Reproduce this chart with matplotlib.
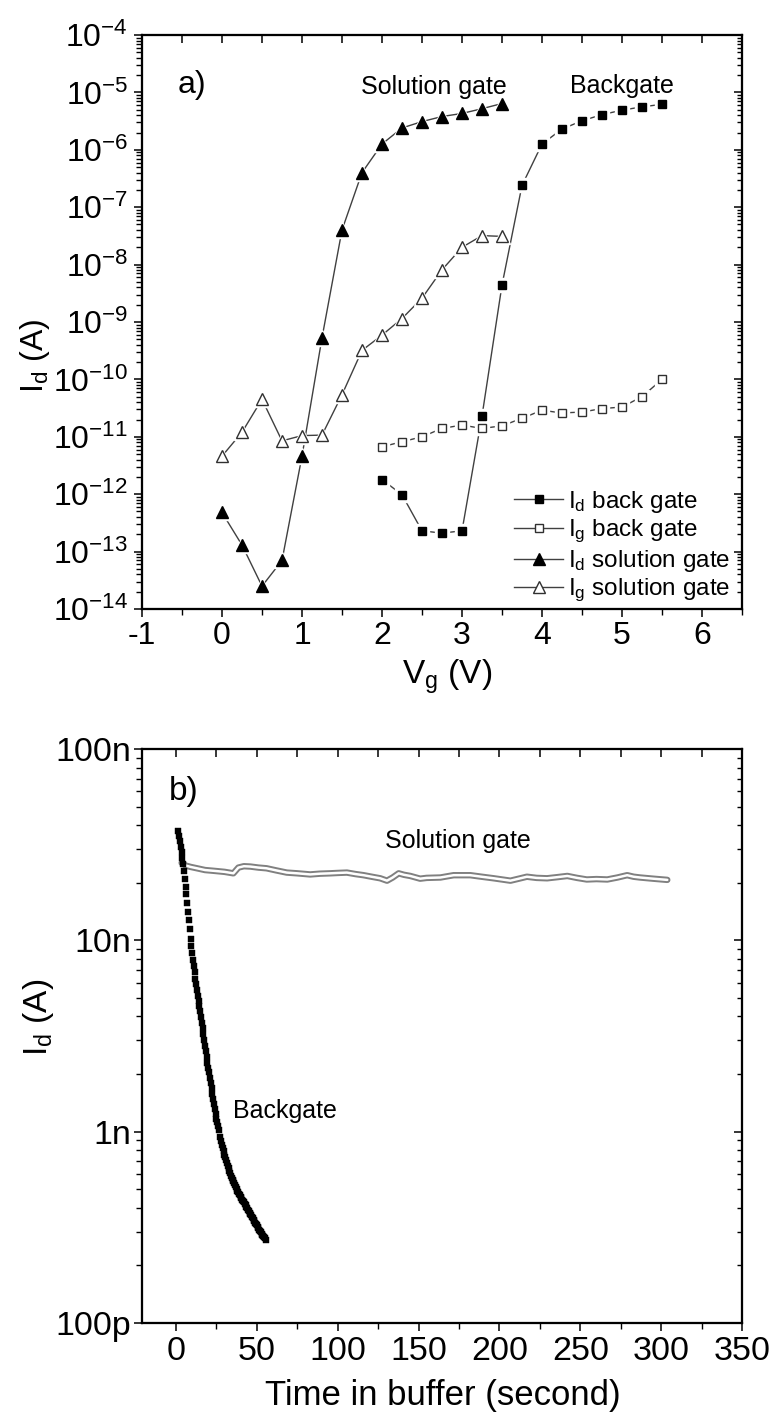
import numpy as np
import matplotlib.pyplot as plt
from matplotlib.lines import Line2D
from matplotlib.ticker import (LogLocator, MultipleLocator, FixedLocator,
                               FuncFormatter, NullFormatter)

plt.rcParams['font.family'] = 'Liberation Sans'
plt.rcParams['mathtext.fontset'] = 'custom'
plt.rcParams['mathtext.rm'] = 'Liberation Sans'
plt.rcParams['mathtext.it'] = 'Liberation Sans:italic'
plt.rcParams['mathtext.bf'] = 'Liberation Sans:bold'
plt.rcParams['axes.unicode_minus'] = False
plt.rcParams['axes.linewidth'] = 1.5

# --- a) transfer curves, Vg sweep ---
vg_solution = [0, 0.25, 0.5, 0.75, 1.0, 1.25, 1.5, 1.75, 2.0, 2.25, 2.5, 2.75, 3.0, 3.25, 3.5]
id_solution = [4.8e-13, 1.3e-13, 2.5e-14, 7e-14, 4.6e-12, 5.3e-10, 4.0e-8, 4.0e-7,
               1.26e-6, 2.4e-6, 3.1e-6, 3.8e-6, 4.3e-6, 5.2e-6, 6.4e-6]
ig_solution = [4.6e-12, 1.2e-11, 4.5e-11, 8.5e-12, 1.05e-11, 1.07e-11, 5.4e-11, 3.2e-10,
               5.9e-10, 1.15e-9, 2.6e-9, 8.1e-9, 2.0e-8, 3.2e-8, 3.1e-8]

vg_back = [2.0, 2.25, 2.5, 2.75, 3.0, 3.25, 3.5, 3.75, 4.0, 4.25, 4.5, 4.75, 5.0, 5.25, 5.5]
id_back = [1.8e-12, 9.8e-13, 2.3e-13, 2.1e-13, 2.3e-13, 2.3e-11, 4.4e-9, 2.4e-7,
           1.26e-6, 2.3e-6, 3.2e-6, 4.1e-6, 4.9e-6, 5.6e-6, 6.2e-6]
ig_back = [6.7e-12, 8.2e-12, 1.0e-11, 1.4e-11, 1.6e-11, 1.4e-11, 1.55e-11, 2.1e-11,
           2.9e-11, 2.6e-11, 2.7e-11, 3.1e-11, 3.3e-11, 5.0e-11, 1.0e-10]

# --- b) drain current vs time in buffer (nA) ---
# back gate logged every 0.5 s starting at 1.5 s (one missing sample at 27 s)
backgate_nA = [37.2, 35.1, 33.1, 30.9, 28.8, 26.9, 25.1, 22.9, 20.9, 19.1,
               17.4, 15.7, 14.1, 12.7, 11.5, 10.2, 9.3, 8.6, 7.9, 7.3,
               6.8, 6.3, 5.9, 5.5, 5.1, 4.84, 4.52, 4.27, 3.98, 3.72,
               3.47, 3.24, 3.02, 2.82, 2.63, 2.45, 2.29, 2.16, 2.04, 1.91,
               1.80, 1.70, 1.58, 1.48, 1.40, 1.32, 1.24, 1.17,
               1.12, 1.07, 1.02, np.nan, 0.933, 0.891, 0.851, 0.818, 0.789, 0.759,
               0.733, 0.708, 0.684, 0.661, 0.643, 0.624, 0.607, 0.589, 0.575, 0.562,
               0.550, 0.537, 0.525, 0.513, 0.501, 0.490, 0.481, 0.473, 0.465, 0.457,
               0.449, 0.442, 0.434, 0.427, 0.419, 0.412, 0.405, 0.398, 0.391, 0.385,
               0.378, 0.372, 0.365, 0.359, 0.352, 0.347, 0.340, 0.335, 0.329, 0.324,
               0.318, 0.313, 0.307, 0.302, 0.298, 0.293, 0.289, 0.285, 0.281, 0.277,
               0.272]
backgate_t = 1.5 + 0.5 * np.arange(len(backgate_nA))

solution_t = [3.5, 6, 9, 13, 18, 23, 30, 35.5, 38.6, 42, 46, 51, 56, 62, 68.5, 75, 83,
              89, 95.4, 100, 105.7, 111, 116, 121, 126.3, 130.5, 134, 137.7, 141,
              144.9, 151, 155, 163.5, 171.7, 182, 189, 196.5, 206.8, 212, 217, 223,
              229.5, 236, 242, 248, 254, 260, 266.7, 273, 279, 283, 287, 295, 303.8]
solution_nA = [25.4, 24.6, 24.2, 23.8, 23.3, 23.1, 22.8, 22.4, 24.0, 24.4, 24.3, 24.0,
               23.8, 23.2, 22.6, 22.4, 22.1, 22.3, 22.4, 22.5, 22.6, 22.2, 21.9, 21.5,
               21.1, 20.5, 21.3, 22.4, 22.0, 21.7, 21.0, 21.2, 21.3, 21.9, 21.9, 21.5,
               21.1, 20.5, 21.0, 21.5, 21.2, 21.1, 21.4, 21.7, 21.2, 20.8, 20.9, 20.8,
               21.3, 21.9, 21.5, 21.3, 21.0, 20.7]

W, H = 775, 1415
fig = plt.figure(figsize=(W / 100, H / 100), dpi=100)
ax1 = fig.add_axes([142 / W, 1 - 609 / H, 600 / W, 574 / H])
ax2 = fig.add_axes([142 / W, 1 - 1323 / H, 600 / W, 574 / H])

LINE = '#404040'


def plot_series(ax, x, y, marker, ms, filled):
    ax.plot(x, y, '-', color=LINE, lw=1.0, zorder=2)
    # white halo so the connecting line stops short of each symbol
    ax.plot(x, y, ls='none', marker=marker, ms=ms + 3.5, mfc='white', mec='white', zorder=3)
    ax.plot(x, y, ls='none', marker=marker, ms=ms,
            mfc='black' if filled else 'white',
            mec='black' if filled else '#303030', mew=1.0, zorder=4)


def mirror_axes(ax, xstep):
    top = ax.twiny()
    top.set_xlim(ax.get_xlim())
    top.xaxis.set_major_locator(MultipleLocator(xstep))
    top.tick_params(axis='x', direction='in', length=5.5, width=1.1, labeltop=False)
    right = ax.twinx()
    right.set_yscale('log')
    right.set_ylim(ax.get_ylim())
    right.yaxis.set_major_locator(LogLocator(base=10, numticks=30))
    right.yaxis.set_minor_locator(LogLocator(base=10, subs=np.arange(2, 10), numticks=30))
    right.yaxis.set_major_formatter(NullFormatter())
    right.yaxis.set_minor_formatter(NullFormatter())
    right.tick_params(axis='y', which='major', direction='in', length=6, width=1.1)
    right.tick_params(axis='y', which='minor', direction='in', length=3.5, width=1.0)
    for a in (top, right):
        for s in a.spines.values():
            s.set_linewidth(1.5)


# ---------------- panel a ----------------
plot_series(ax1, vg_back, id_back, 's', 6, True)
plot_series(ax1, vg_back, ig_back, 's', 6, False)
plot_series(ax1, vg_solution, id_solution, '^', 8.5, True)
plot_series(ax1, vg_solution, ig_solution, '^', 8.5, False)

ax1.set_yscale('log')
ax1.set_xlim(-1, 6.5)
ax1.set_ylim(1e-14, 1e-4)
ax1.xaxis.set_major_locator(MultipleLocator(1))
ax1.xaxis.set_minor_locator(MultipleLocator(0.5))
ax1.yaxis.set_major_locator(LogLocator(base=10, numticks=30))
ax1.yaxis.set_minor_locator(LogLocator(base=10, subs=np.arange(2, 10), numticks=30))
ax1.yaxis.set_minor_formatter(NullFormatter())
ax1.yaxis.set_major_formatter(FuncFormatter(
    lambda v, p: r'$\mathregular{10^{%d}}$' % round(np.log10(v))))
ax1.tick_params(axis='both', which='major', direction='out', length=6, width=1.1,
                labelsize=23)
ax1.tick_params(axis='x', which='major', pad=3)
ax1.tick_params(axis='y', which='major', pad=4)
ax1.tick_params(axis='both', which='minor', direction='out', length=4, width=1.0)
mirror_axes(ax1, 0.5)

handles = [
    Line2D([], [], color=LINE, lw=1, marker='s', ms=6, mfc='black', mec='black'),
    Line2D([], [], color=LINE, lw=1, marker='s', ms=6, mfc='white', mec='#303030'),
    Line2D([], [], color=LINE, lw=1, marker='^', ms=8.5, mfc='black', mec='black'),
    Line2D([], [], color=LINE, lw=1, marker='^', ms=8.5, mfc='white', mec='#303030'),
]
labels = [r'$\mathregular{I_d}$ back gate', r'$\mathregular{I_g}$ back gate',
          r'$\mathregular{I_d}$ solution gate', r'$\mathregular{I_g}$ solution gate']
ax1.legend(handles, labels, loc='lower right', bbox_to_anchor=(0.98, 0.008),
           frameon=False, fontsize=17.5, handlelength=2.0, handletextpad=0.2,
           labelspacing=0.12, borderpad=0, borderaxespad=0)

ax1.text(0.06, 0.899, 'a)', transform=ax1.transAxes, fontsize=23, va='baseline')
ax1.text(0.487, 0.897, 'Solution gate', transform=ax1.transAxes, fontsize=18,
         ha='center', va='baseline')
ax1.text(0.80, 0.899, 'Backgate', transform=ax1.transAxes, fontsize=18,
         ha='center', va='baseline')

fig.text(35 / W, 1 - 356 / H, r'$\mathregular{I_d}$ (A)', rotation=90,
         ha='center', va='center', fontsize=23)
fig.text(447 / W, 1 - 684 / H, r'$\mathregular{V_g}$ (V)', ha='center', va='baseline',
         fontsize=24)

# ---------------- panel b ----------------
backgate_A = np.array(backgate_nA) * 1e-9
solution_A = np.array(solution_nA) * 1e-9

# solution gate trace: dense open circles, drawn as a hollow band
ax2.plot(solution_t, solution_A, color='#808080', lw=4.6, solid_joinstyle='round',
         solid_capstyle='round', zorder=2)
ax2.plot(solution_t, solution_A, color='white', lw=1.8, solid_joinstyle='round',
         solid_capstyle='round', zorder=3)
ax2.plot(backgate_t, backgate_A, ls='none', marker='s', ms=4.0, mfc='black',
         mec='black', mew=0.3, zorder=4)

ax2.set_yscale('log')
ax2.set_xlim(-21, 350)
ax2.set_ylim(1e-10, 1e-7)
ax2.xaxis.set_major_locator(MultipleLocator(50))
ax2.xaxis.set_minor_locator(MultipleLocator(25))
ax2.yaxis.set_major_locator(FixedLocator([1e-10, 1e-9, 1e-8, 1e-7]))
ax2.yaxis.set_major_formatter(FuncFormatter(
    lambda v, p: {-10: '100p', -9: '1n', -8: '10n', -7: '100n'}[round(np.log10(v))]))
ax2.yaxis.set_minor_locator(LogLocator(base=10, subs=np.arange(2, 10), numticks=30))
ax2.yaxis.set_minor_formatter(NullFormatter())
ax2.tick_params(axis='both', which='major', direction='out', length=6, width=1.1,
                labelsize=24.5)
ax2.tick_params(axis='x', which='major', pad=3)
ax2.tick_params(axis='y', which='major', pad=2)
ax2.tick_params(axis='both', which='minor', direction='out', length=4, width=1.0)
mirror_axes(ax2, 25)

ax2.text(0.045, 0.911, 'b)', transform=ax2.transAxes, fontsize=24, va='baseline')
ax2.text(0.405, 0.8275, 'Solution gate', transform=ax2.transAxes, fontsize=18,
         va='baseline')
ax2.text(0.152, 0.357, 'Backgate', transform=ax2.transAxes, fontsize=18,
         va='baseline')

fig.text(38 / W, 1 - 1017 / H, r'$\mathregular{I_d}$ (A)', rotation=90,
         ha='center', va='center', fontsize=24)
fig.text(443 / W, 1 - 1395 / H, 'Time in buffer (second)', ha='center', va='center',
         fontsize=25)

fig.savefig('out.png', dpi=100)
